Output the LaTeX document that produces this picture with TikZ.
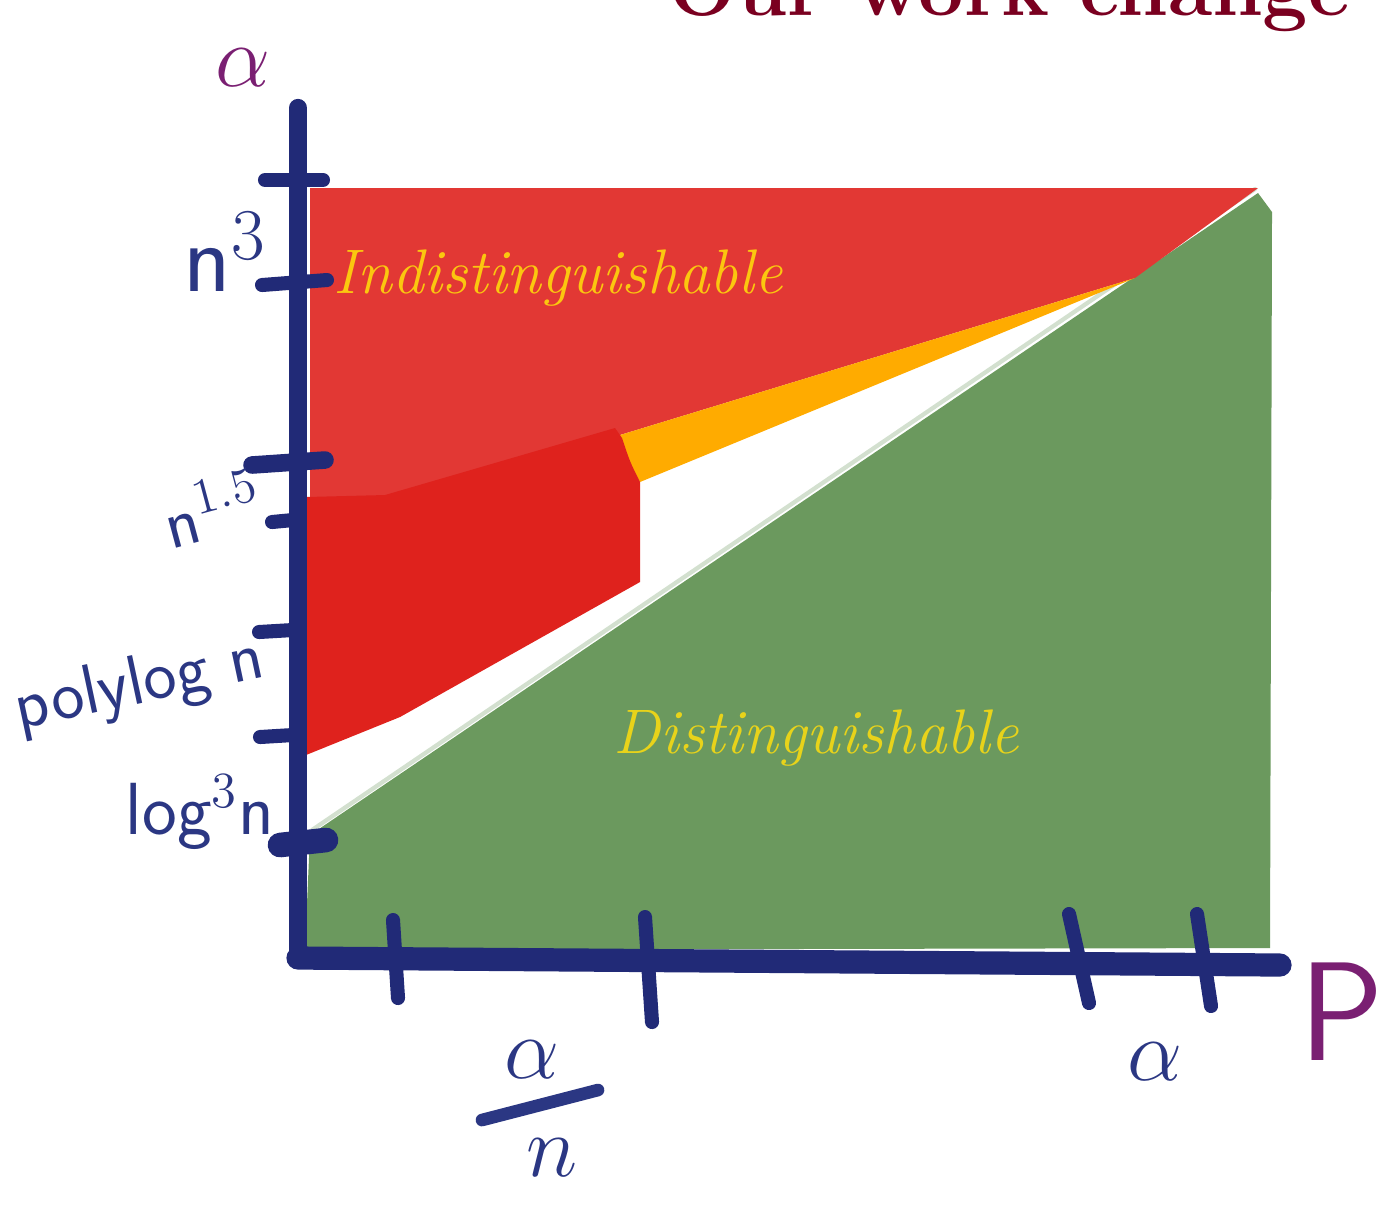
\documentclass[tikz,border=0pt]{standalone}
\usetikzlibrary{arrows.meta, positioning}
\definecolor{cnavy}{HTML}{212A77}
\definecolor{cink}{HTML}{2B3783}
\definecolor{cred}{HTML}{E23834}
\definecolor{cdarkred}{HTML}{DF221D}
\definecolor{corange}{HTML}{FFAB00}
\definecolor{cgreen}{HTML}{6B995E}
\definecolor{cpurple}{HTML}{7A1F72}
\definecolor{cgold}{HTML}{FBC70F}
\definecolor{cyellow}{HTML}{E8D31A}
\definecolor{cwine}{HTML}{7A0020}
\tikzset{
  every picture/.style={line cap=round, line join=round},
  axisline/.style={draw=cnavy, line width=5.2pt},
  tick/.style={draw=cnavy, line width=4pt},
  hand/.style={text=cink, font=\sffamily\fontsize{20}{22}\selectfont, inner sep=0pt},
  axislabel/.style={text=cpurple, inner sep=0pt},
  region/.style={font=\itshape\fontsize{17.9}{20}\selectfont, anchor=base west, inner sep=0pt},
  title/.style={text=cwine, font=\bfseries\fontsize{23}{26}\selectfont, anchor=base west, inner sep=0pt},
}

\begin{document}
\begin{tikzpicture}[x=0.01cm, y=-0.01cm]
  \useasboundingbox (0,0) rectangle (1380,1211);
  % regions of the plane
  \draw[cgreen!30, line width=1.2pt] (312,830) -- (1255,189);
  \fill[cgreen] (310,835) -- (1258,193) -- (1272,212) -- (1270,948) -- (305,950) -- cycle;
  \fill[cred] (310,188) -- (1258,188) -- (1135,278) -- (620,435) -- (385,497) -- (310,497) -- cycle;
  \fill[corange] (620,435) -- (1135,278) -- (640,482) .. controls (628,462) .. (620,435) -- cycle;
  \fill[cdarkred] (306,497) -- (385,495) -- (615,428) -- (622,438) .. controls (630,462) .. (640,482)
    -- (640,582) -- (400,717) -- (306,755) -- cycle;
  % axes
  \coordinate (origin) at (298,958);
  \coordinate (ytop) at (298,108);
  \coordinate (xend) at (1280,965);
  \draw[axisline] (origin) -- (ytop);
  \draw[axisline, line width=6.6pt] (origin) -- (xend);
  % ticks on the axes
  \draw[tick] (265,180) -- (323,180);
  \draw[tick] (262,285) -- (327,280);
  \draw[tick, line width=5pt] (252,465) -- (325,460);
  \draw[tick] (272,522) -- (293,520);
  \draw[tick] (259,632) -- (293,630);
  \draw[tick] (260,737) -- (293,735);
  \draw[tick, line width=7pt] (280,845) -- (326,840);
  \draw[tick] (393,920) -- (398,998);
  \draw[tick] (645,917) -- (652,1022);
  \draw[tick] (1069,914) -- (1089,1003);
  \draw[tick] (1197,914) -- (1211,1006);
  % labels
  \node[axislabel, font=\fontsize{44}{46}\selectfont] (ylabel) at (243,68) {$\alpha$};
  \node[axislabel, font=\sffamily\fontsize{40}{44}\selectfont] (xlabel) at (1342,1012) {P};
  \node[hand, font=\sffamily\fontsize{28}{30}\selectfont] (ncube) at (225,252) {n$^{3}$};
  \node[hand, rotate=15] (nonehalf) at (212,508) {n$^{1.5}$};
  \node[hand, rotate=12] (polylog) at (140,686) {polylog n};
  \node[hand, font=\sffamily\fontsize{21}{23}\selectfont] (logcube) at (200,812) {log$^{3}$n};
  \node[hand, font=\fontsize{40}{42}\selectfont] (anum) at (532,1060) {$\alpha$};
  \node[hand, font=\fontsize{40}{42}\selectfont] (aden) at (552,1158) {$n$};
  \draw[tick, draw=cink, line width=3.6pt] (482,1120) -- (598,1090);
  \node[hand, font=\fontsize{32}{34}\selectfont] (alpha) at (1155,1062) {$\alpha$};
  \node[region, text=cgold] (indist) at (333,293) {Indistinguishable};
  \node[region, text=cyellow] (dist) at (613,753) {Distinguishable};
  \node[title] (heading) at (668,15) {Our work change};
\end{tikzpicture}
\end{document}
